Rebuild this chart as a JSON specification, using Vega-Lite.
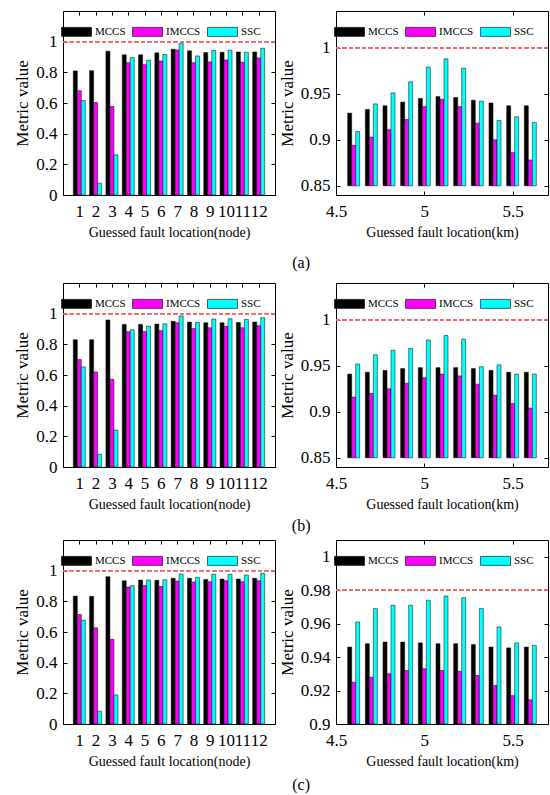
{
  "$schema": "https://vega.github.io/schema/vega-lite/v6.json",
  "background": "white",
  "padding": {"left": 13, "top": 10, "right": 2, "bottom": 5},
  "config": {
    "font": "Liberation Serif",
    "view": {"stroke": "black", "strokeWidth": 1},
    "axis": {
      "labelFont": "Liberation Serif", "labelFontSize": 17, "labelColor": "black",
      "titleFont": "Liberation Serif", "titleFontSize": 17, "titleFontWeight": "normal", "titleColor": "black",
      "domain": false, "tickColor": "black", "tickSize": -4, "grid": false,
      "labelFlush": false, "labelOverlap": false, "format": "~g"
    },
    "axisX": {"titleFontSize": 14, "labelPadding": 12, "titlePadding": 6},
    "axisY": {"labelPadding": 10, "titlePadding": 4},
    "scale": {"continuousPadding": 0},
    "legend": {
      "symbolType": "M-1,-0.3H1V0.3H-1Z", "symbolSize": 900,
      "symbolStrokeColor": "black", "symbolStrokeWidth": 0.6,
      "labelFont": "Liberation Serif", "labelFontSize": 11, "labelColor": "black",
      "columnPadding": 5, "labelOffset": 3
    },
    "title": {"font": "Liberation Serif", "fontSize": 16, "fontWeight": "normal", "color": "black"}
  },
  "datasets": {
    "a_node": [
      {"loc": 1, "MCCS": 0.809, "IMCCS": 0.680, "SSC": 0.616},
      {"loc": 2, "MCCS": 0.811, "IMCCS": 0.603, "SSC": 0.077},
      {"loc": 3, "MCCS": 0.938, "IMCCS": 0.577, "SSC": 0.262},
      {"loc": 4, "MCCS": 0.914, "IMCCS": 0.863, "SSC": 0.896},
      {"loc": 5, "MCCS": 0.914, "IMCCS": 0.850, "SSC": 0.879},
      {"loc": 6, "MCCS": 0.927, "IMCCS": 0.874, "SSC": 0.916},
      {"loc": 7, "MCCS": 0.951, "IMCCS": 0.946, "SSC": 0.990},
      {"loc": 8, "MCCS": 0.940, "IMCCS": 0.863, "SSC": 0.907},
      {"loc": 9, "MCCS": 0.929, "IMCCS": 0.868, "SSC": 0.942},
      {"loc": 10, "MCCS": 0.931, "IMCCS": 0.881, "SSC": 0.944},
      {"loc": 11, "MCCS": 0.933, "IMCCS": 0.866, "SSC": 0.931},
      {"loc": 12, "MCCS": 0.933, "IMCCS": 0.894, "SSC": 0.957}
    ],
    "a_km": [
      {"loc": 4.6, "MCCS": 0.929, "IMCCS": 0.894, "SSC": 0.909},
      {"loc": 4.7, "MCCS": 0.933, "IMCCS": 0.903, "SSC": 0.939},
      {"loc": 4.8, "MCCS": 0.937, "IMCCS": 0.911, "SSC": 0.951},
      {"loc": 4.9, "MCCS": 0.941, "IMCCS": 0.922, "SSC": 0.963},
      {"loc": 5.0, "MCCS": 0.945, "IMCCS": 0.936, "SSC": 0.979},
      {"loc": 5.1, "MCCS": 0.947, "IMCCS": 0.944, "SSC": 0.988},
      {"loc": 5.2, "MCCS": 0.946, "IMCCS": 0.936, "SSC": 0.978},
      {"loc": 5.3, "MCCS": 0.943, "IMCCS": 0.918, "SSC": 0.942},
      {"loc": 5.4, "MCCS": 0.940, "IMCCS": 0.900, "SSC": 0.921},
      {"loc": 5.5, "MCCS": 0.937, "IMCCS": 0.886, "SSC": 0.925},
      {"loc": 5.6, "MCCS": 0.937, "IMCCS": 0.878, "SSC": 0.919}
    ],
    "b_node": [
      {"loc": 1, "MCCS": 0.830, "IMCCS": 0.701, "SSC": 0.653},
      {"loc": 2, "MCCS": 0.830, "IMCCS": 0.620, "SSC": 0.083},
      {"loc": 3, "MCCS": 0.959, "IMCCS": 0.572, "SSC": 0.240},
      {"loc": 4, "MCCS": 0.930, "IMCCS": 0.882, "SSC": 0.895},
      {"loc": 5, "MCCS": 0.930, "IMCCS": 0.884, "SSC": 0.919},
      {"loc": 6, "MCCS": 0.932, "IMCCS": 0.889, "SSC": 0.934},
      {"loc": 7, "MCCS": 0.950, "IMCCS": 0.941, "SSC": 0.985},
      {"loc": 8, "MCCS": 0.945, "IMCCS": 0.904, "SSC": 0.943},
      {"loc": 9, "MCCS": 0.941, "IMCCS": 0.908, "SSC": 0.965},
      {"loc": 10, "MCCS": 0.941, "IMCCS": 0.917, "SSC": 0.967},
      {"loc": 11, "MCCS": 0.943, "IMCCS": 0.908, "SSC": 0.963},
      {"loc": 12, "MCCS": 0.945, "IMCCS": 0.921, "SSC": 0.974}
    ],
    "b_km": [
      {"loc": 4.6, "MCCS": 0.941, "IMCCS": 0.916, "SSC": 0.952},
      {"loc": 4.7, "MCCS": 0.943, "IMCCS": 0.920, "SSC": 0.962},
      {"loc": 4.8, "MCCS": 0.945, "IMCCS": 0.925, "SSC": 0.967},
      {"loc": 4.9, "MCCS": 0.947, "IMCCS": 0.931, "SSC": 0.969},
      {"loc": 5.0, "MCCS": 0.948, "IMCCS": 0.937, "SSC": 0.978},
      {"loc": 5.1, "MCCS": 0.948, "IMCCS": 0.941, "SSC": 0.983},
      {"loc": 5.2, "MCCS": 0.948, "IMCCS": 0.939, "SSC": 0.979},
      {"loc": 5.3, "MCCS": 0.947, "IMCCS": 0.930, "SSC": 0.949},
      {"loc": 5.4, "MCCS": 0.945, "IMCCS": 0.918, "SSC": 0.951},
      {"loc": 5.5, "MCCS": 0.943, "IMCCS": 0.909, "SSC": 0.941},
      {"loc": 5.6, "MCCS": 0.943, "IMCCS": 0.904, "SSC": 0.941}
    ],
    "c_node": [
      {"loc": 1, "MCCS": 0.834, "IMCCS": 0.714, "SSC": 0.677},
      {"loc": 2, "MCCS": 0.832, "IMCCS": 0.627, "SSC": 0.083},
      {"loc": 3, "MCCS": 0.961, "IMCCS": 0.552, "SSC": 0.190},
      {"loc": 4, "MCCS": 0.934, "IMCCS": 0.893, "SSC": 0.902},
      {"loc": 5, "MCCS": 0.939, "IMCCS": 0.904, "SSC": 0.939},
      {"loc": 6, "MCCS": 0.937, "IMCCS": 0.897, "SSC": 0.941},
      {"loc": 7, "MCCS": 0.950, "IMCCS": 0.932, "SSC": 0.978},
      {"loc": 8, "MCCS": 0.950, "IMCCS": 0.926, "SSC": 0.956},
      {"loc": 9, "MCCS": 0.943, "IMCCS": 0.928, "SSC": 0.976},
      {"loc": 10, "MCCS": 0.945, "IMCCS": 0.934, "SSC": 0.976},
      {"loc": 11, "MCCS": 0.945, "IMCCS": 0.928, "SSC": 0.972},
      {"loc": 12, "MCCS": 0.950, "IMCCS": 0.934, "SSC": 0.983}
    ],
    "c_km": [
      {"loc": 4.6, "MCCS": 0.946, "IMCCS": 0.925, "SSC": 0.961},
      {"loc": 4.7, "MCCS": 0.948, "IMCCS": 0.928, "SSC": 0.969},
      {"loc": 4.8, "MCCS": 0.949, "IMCCS": 0.930, "SSC": 0.971},
      {"loc": 4.9, "MCCS": 0.949, "IMCCS": 0.932, "SSC": 0.971},
      {"loc": 5.0, "MCCS": 0.9485, "IMCCS": 0.933, "SSC": 0.974},
      {"loc": 5.1, "MCCS": 0.948, "IMCCS": 0.932, "SSC": 0.9765},
      {"loc": 5.2, "MCCS": 0.948, "IMCCS": 0.9315, "SSC": 0.9755},
      {"loc": 5.3, "MCCS": 0.9475, "IMCCS": 0.929, "SSC": 0.969},
      {"loc": 5.4, "MCCS": 0.946, "IMCCS": 0.923, "SSC": 0.958},
      {"loc": 5.5, "MCCS": 0.9455, "IMCCS": 0.917, "SSC": 0.9485},
      {"loc": 5.6, "MCCS": 0.946, "IMCCS": 0.9145, "SSC": 0.947}
    ]
  },
  "spacing": 11,
  "resolve": {"scale": {"color": "independent"}, "legend": {"color": "independent"}},
  "vconcat": [
    {
      "spacing": 1,
      "resolve": {"scale": {"color": "independent"}, "legend": {"color": "independent"}},
      "title": {"text": "(a)", "orient": "bottom", "anchor": "middle", "offset": 15, "dx": 20},
      "hconcat": [
        {
          "width": 212, "height": 184,
          "data": {"name": "a_node"},
          "resolve": {"axis": {"x": "independent", "y": "independent"}},
          "layer": [
            {"mark": {"type": "bar", "width": 4, "xOffset": -4, "stroke": "black", "strokeWidth": 0.5},
             "encoding": {
               "x": {"field": "loc", "type": "quantitative", "scale": {"domain": [0, 13], "padding": 0, "nice": false, "zero": false}, "axis": {"values": [1,2,3,4,5,6,7,8,9,10,11,12], "title": "Guessed fault location(node)"}},
               "y": {"field": "MCCS", "type": "quantitative", "scale": {"domain": [0, 1.2]}, "axis": {"values": [0,0.2,0.4,0.6,0.8,1], "title": "Metric value"}},
               "color": {"datum": "MCCS", "scale": {"domain": ["MCCS","IMCCS","SSC"], "range": ["#000000","#ff00ff","#00ffff"]}, "legend": {"title": null, "orient": "none", "direction": "horizontal", "legendX": -2, "legendY": 5}}
             }},
            {"mark": {"type": "bar", "width": 4, "xOffset": 0, "stroke": "black", "strokeWidth": 0.5},
             "encoding": {"x": {"field": "loc", "type": "quantitative", "axis": null}, "y": {"field": "IMCCS", "type": "quantitative", "axis": null}, "color": {"datum": "IMCCS"}}},
            {"mark": {"type": "bar", "width": 4, "xOffset": 4, "stroke": "black", "strokeWidth": 0.5},
             "encoding": {"x": {"field": "loc", "type": "quantitative", "axis": null}, "y": {"field": "SSC", "type": "quantitative", "axis": null}, "color": {"datum": "SSC"}}},
            {"mark": {"type": "rule", "color": "#f26666", "strokeDash": [4, 2.5], "strokeWidth": 1},
             "encoding": {"y": {"datum": 1, "axis": null}}},
            {"mark": {"type": "point", "opacity": 0},
             "encoding": {
               "x": {"field": "loc", "type": "quantitative", "axis": {"orient": "top", "values": [1,2,3,4,5,6,7,8,9,10,11,12], "labels": false, "title": null}},
               "y": {"field": "MCCS", "type": "quantitative", "axis": {"orient": "right", "values": [0,0.2,0.4,0.6,0.8,1], "labels": false, "title": null}}
             }}
          ]
        },
        {
          "width": 212, "height": 184,
          "data": {"name": "a_km"},
          "resolve": {"axis": {"x": "independent", "y": "independent"}},
          "layer": [
            {"mark": {"type": "bar", "width": 4, "xOffset": -4, "stroke": "black", "strokeWidth": 0.5},
             "encoding": {
               "x": {"field": "loc", "type": "quantitative", "scale": {"domain": [4.5, 5.7], "padding": 0, "nice": false, "zero": false}, "axis": {"values": [4.5, 5, 5.5], "title": "Guessed fault location(km)"}},
               "y": {"field": "MCCS", "type": "quantitative", "scale": {"domain": [0.85, 1.04], "zero": false}, "axis": {"values": [0.85, 0.9, 0.95, 1], "title": "Metric value"}},
               "y2": {"datum": 0.85},
               "color": {"datum": "MCCS", "scale": {"domain": ["MCCS","IMCCS","SSC"], "range": ["#000000","#ff00ff","#00ffff"]}, "legend": {"title": null, "orient": "none", "direction": "horizontal", "legendX": -2, "legendY": 5}}
             }},
            {"mark": {"type": "bar", "width": 4, "xOffset": 0, "stroke": "black", "strokeWidth": 0.5},
             "encoding": {"x": {"field": "loc", "type": "quantitative", "axis": null}, "y": {"field": "IMCCS", "type": "quantitative", "axis": null}, "y2": {"datum": 0.85}, "color": {"datum": "IMCCS"}}},
            {"mark": {"type": "bar", "width": 4, "xOffset": 4, "stroke": "black", "strokeWidth": 0.5},
             "encoding": {"x": {"field": "loc", "type": "quantitative", "axis": null}, "y": {"field": "SSC", "type": "quantitative", "axis": null}, "y2": {"datum": 0.85}, "color": {"datum": "SSC"}}},
            {"mark": {"type": "rule", "color": "#f26666", "strokeDash": [4, 2.5], "strokeWidth": 1},
             "encoding": {"y": {"datum": 1, "axis": null}}},
            {"mark": {"type": "point", "opacity": 0},
             "encoding": {
               "x": {"field": "loc", "type": "quantitative", "axis": {"orient": "top", "values": [4.5, 5, 5.5], "labels": false, "title": null}},
               "y": {"field": "MCCS", "type": "quantitative", "axis": {"orient": "right", "values": [0.85, 0.9, 0.95, 1], "labels": false, "title": null}}
             }}
          ]
        }
      ]
    },
    {
      "spacing": 5,
      "resolve": {"scale": {"color": "independent"}, "legend": {"color": "independent"}},
      "vconcat": [
        {
          "spacing": 1,
          "resolve": {"scale": {"color": "independent"}, "legend": {"color": "independent"}},
          "title": {"text": "(b)", "orient": "bottom", "anchor": "middle", "offset": 6, "dx": 20},
          "hconcat": [
            {
              "width": 212, "height": 184,
              "data": {"name": "b_node"},
              "resolve": {"axis": {"x": "independent", "y": "independent"}},
              "layer": [
                {"mark": {"type": "bar", "width": 4, "xOffset": -4, "stroke": "black", "strokeWidth": 0.5},
                 "encoding": {
                   "x": {"field": "loc", "type": "quantitative", "scale": {"domain": [0, 13], "padding": 0, "nice": false, "zero": false}, "axis": {"values": [1,2,3,4,5,6,7,8,9,10,11,12], "title": "Guessed fault location(node)"}},
                   "y": {"field": "MCCS", "type": "quantitative", "scale": {"domain": [0, 1.2]}, "axis": {"values": [0,0.2,0.4,0.6,0.8,1], "title": "Metric value"}},
                   "color": {"datum": "MCCS", "scale": {"domain": ["MCCS","IMCCS","SSC"], "range": ["#000000","#ff00ff","#00ffff"]}, "legend": {"title": null, "orient": "none", "direction": "horizontal", "legendX": -2, "legendY": 5}}
                 }},
                {"mark": {"type": "bar", "width": 4, "xOffset": 0, "stroke": "black", "strokeWidth": 0.5},
                 "encoding": {"x": {"field": "loc", "type": "quantitative", "axis": null}, "y": {"field": "IMCCS", "type": "quantitative", "axis": null}, "color": {"datum": "IMCCS"}}},
                {"mark": {"type": "bar", "width": 4, "xOffset": 4, "stroke": "black", "strokeWidth": 0.5},
                 "encoding": {"x": {"field": "loc", "type": "quantitative", "axis": null}, "y": {"field": "SSC", "type": "quantitative", "axis": null}, "color": {"datum": "SSC"}}},
                {"mark": {"type": "rule", "color": "#f26666", "strokeDash": [4, 2.5], "strokeWidth": 1},
                 "encoding": {"y": {"datum": 1, "axis": null}}},
                {"mark": {"type": "point", "opacity": 0},
                 "encoding": {
                   "x": {"field": "loc", "type": "quantitative", "axis": {"orient": "top", "values": [1,2,3,4,5,6,7,8,9,10,11,12], "labels": false, "title": null}},
                   "y": {"field": "MCCS", "type": "quantitative", "axis": {"orient": "right", "values": [0,0.2,0.4,0.6,0.8,1], "labels": false, "title": null}}
                 }}
              ]
            },
            {
              "width": 212, "height": 184,
              "data": {"name": "b_km"},
              "resolve": {"axis": {"x": "independent", "y": "independent"}},
              "layer": [
                {"mark": {"type": "bar", "width": 4, "xOffset": -4, "stroke": "black", "strokeWidth": 0.5},
                 "encoding": {
                   "x": {"field": "loc", "type": "quantitative", "scale": {"domain": [4.5, 5.7], "padding": 0, "nice": false, "zero": false}, "axis": {"values": [4.5, 5, 5.5], "title": "Guessed fault location(km)"}},
                   "y": {"field": "MCCS", "type": "quantitative", "scale": {"domain": [0.85, 1.03], "zero": false}, "axis": {"values": [0.85, 0.9, 0.95, 1], "title": "Metric value"}},
                   "y2": {"datum": 0.85},
                   "color": {"datum": "MCCS", "scale": {"domain": ["MCCS","IMCCS","SSC"], "range": ["#000000","#ff00ff","#00ffff"]}, "legend": {"title": null, "orient": "none", "direction": "horizontal", "legendX": -2, "legendY": 5}}
                 }},
                {"mark": {"type": "bar", "width": 4, "xOffset": 0, "stroke": "black", "strokeWidth": 0.5},
                 "encoding": {"x": {"field": "loc", "type": "quantitative", "axis": null}, "y": {"field": "IMCCS", "type": "quantitative", "axis": null}, "y2": {"datum": 0.85}, "color": {"datum": "IMCCS"}}},
                {"mark": {"type": "bar", "width": 4, "xOffset": 4, "stroke": "black", "strokeWidth": 0.5},
                 "encoding": {"x": {"field": "loc", "type": "quantitative", "axis": null}, "y": {"field": "SSC", "type": "quantitative", "axis": null}, "y2": {"datum": 0.85}, "color": {"datum": "SSC"}}},
                {"mark": {"type": "rule", "color": "#f26666", "strokeDash": [4, 2.5], "strokeWidth": 1},
                 "encoding": {"y": {"datum": 1, "axis": null}}},
                {"mark": {"type": "point", "opacity": 0},
                 "encoding": {
                   "x": {"field": "loc", "type": "quantitative", "axis": {"orient": "top", "values": [4.5, 5, 5.5], "labels": false, "title": null}},
                   "y": {"field": "MCCS", "type": "quantitative", "axis": {"orient": "right", "values": [0.85, 0.9, 0.95, 1], "labels": false, "title": null}}
                 }}
              ]
            }
          ]
        },
        {
          "spacing": 1,
          "resolve": {"scale": {"color": "independent"}, "legend": {"color": "independent"}},
          "title": {"text": "(c)", "orient": "bottom", "anchor": "middle", "offset": 8, "dx": 20},
          "hconcat": [
            {
              "width": 212, "height": 184,
              "data": {"name": "c_node"},
              "resolve": {"axis": {"x": "independent", "y": "independent"}},
              "layer": [
                {"mark": {"type": "bar", "width": 4, "xOffset": -4, "stroke": "black", "strokeWidth": 0.5},
                 "encoding": {
                   "x": {"field": "loc", "type": "quantitative", "scale": {"domain": [0, 13], "padding": 0, "nice": false, "zero": false}, "axis": {"values": [1,2,3,4,5,6,7,8,9,10,11,12], "title": "Guessed fault location(node)"}},
                   "y": {"field": "MCCS", "type": "quantitative", "scale": {"domain": [0, 1.2]}, "axis": {"values": [0,0.2,0.4,0.6,0.8,1], "title": "Metric value"}},
                   "color": {"datum": "MCCS", "scale": {"domain": ["MCCS","IMCCS","SSC"], "range": ["#000000","#ff00ff","#00ffff"]}, "legend": {"title": null, "orient": "none", "direction": "horizontal", "legendX": -2, "legendY": 5}}
                 }},
                {"mark": {"type": "bar", "width": 4, "xOffset": 0, "stroke": "black", "strokeWidth": 0.5},
                 "encoding": {"x": {"field": "loc", "type": "quantitative", "axis": null}, "y": {"field": "IMCCS", "type": "quantitative", "axis": null}, "color": {"datum": "IMCCS"}}},
                {"mark": {"type": "bar", "width": 4, "xOffset": 4, "stroke": "black", "strokeWidth": 0.5},
                 "encoding": {"x": {"field": "loc", "type": "quantitative", "axis": null}, "y": {"field": "SSC", "type": "quantitative", "axis": null}, "color": {"datum": "SSC"}}},
                {"mark": {"type": "rule", "color": "#f26666", "strokeDash": [4, 2.5], "strokeWidth": 1},
                 "encoding": {"y": {"datum": 1, "axis": null}}},
                {"mark": {"type": "point", "opacity": 0},
                 "encoding": {
                   "x": {"field": "loc", "type": "quantitative", "axis": {"orient": "top", "values": [1,2,3,4,5,6,7,8,9,10,11,12], "labels": false, "title": null}},
                   "y": {"field": "MCCS", "type": "quantitative", "axis": {"orient": "right", "values": [0,0.2,0.4,0.6,0.8,1], "labels": false, "title": null}}
                 }}
              ]
            },
            {
              "width": 212, "height": 184,
              "data": {"name": "c_km"},
              "resolve": {"axis": {"x": "independent", "y": "independent"}},
              "layer": [
                {"mark": {"type": "bar", "width": 4, "xOffset": -4, "stroke": "black", "strokeWidth": 0.5},
                 "encoding": {
                   "x": {"field": "loc", "type": "quantitative", "scale": {"domain": [4.5, 5.7], "padding": 0, "nice": false, "zero": false}, "axis": {"values": [4.5, 5, 5.5], "title": "Guessed fault location(km)"}},
                   "y": {"field": "MCCS", "type": "quantitative", "scale": {"domain": [0.9, 1.01], "zero": false}, "axis": {"values": [0.9, 0.92, 0.94, 0.96, 0.98, 1], "title": "Metric value"}},
                   "y2": {"datum": 0.9},
                   "color": {"datum": "MCCS", "scale": {"domain": ["MCCS","IMCCS","SSC"], "range": ["#000000","#ff00ff","#00ffff"]}, "legend": {"title": null, "orient": "none", "direction": "horizontal", "legendX": -2, "legendY": 5}}
                 }},
                {"mark": {"type": "bar", "width": 4, "xOffset": 0, "stroke": "black", "strokeWidth": 0.5},
                 "encoding": {"x": {"field": "loc", "type": "quantitative", "axis": null}, "y": {"field": "IMCCS", "type": "quantitative", "axis": null}, "y2": {"datum": 0.9}, "color": {"datum": "IMCCS"}}},
                {"mark": {"type": "bar", "width": 4, "xOffset": 4, "stroke": "black", "strokeWidth": 0.5},
                 "encoding": {"x": {"field": "loc", "type": "quantitative", "axis": null}, "y": {"field": "SSC", "type": "quantitative", "axis": null}, "y2": {"datum": 0.9}, "color": {"datum": "SSC"}}},
                {"mark": {"type": "rule", "color": "#f26666", "strokeDash": [4, 2.5], "strokeWidth": 1},
                 "encoding": {"y": {"datum": 0.98, "axis": null}}},
                {"mark": {"type": "point", "opacity": 0},
                 "encoding": {
                   "x": {"field": "loc", "type": "quantitative", "axis": {"orient": "top", "values": [4.5, 5, 5.5], "labels": false, "title": null}},
                   "y": {"field": "MCCS", "type": "quantitative", "axis": {"orient": "right", "values": [0.9, 0.92, 0.94, 0.96, 0.98, 1], "labels": false, "title": null}}
                 }}
              ]
            }
          ]
        }
      ]
    }
  ]
}
